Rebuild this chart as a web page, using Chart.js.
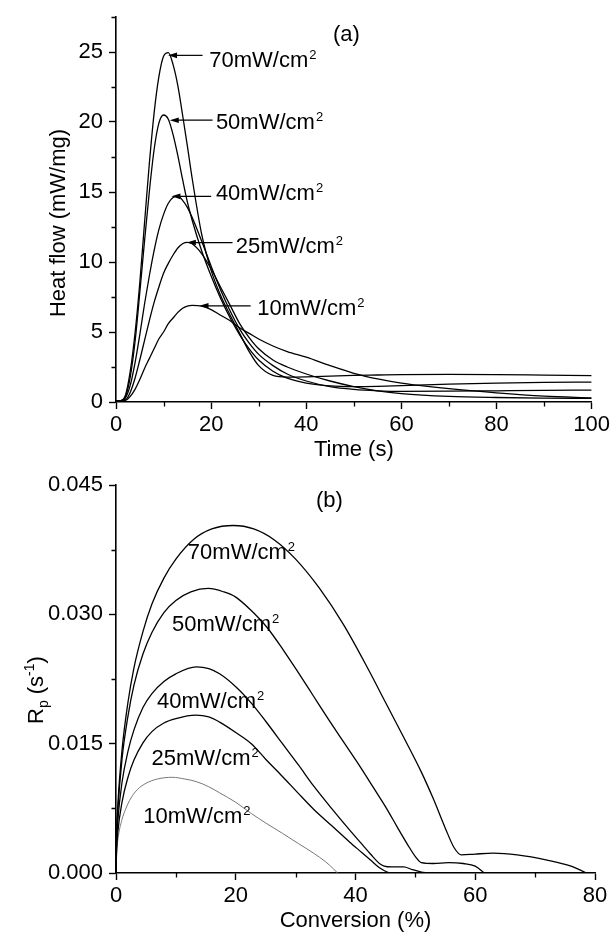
<!DOCTYPE html>
<html>
<head>
<meta charset="utf-8">
<script src="https://cdn.jsdelivr.net/npm/chart.js@4/dist/chart.umd.min.js"></script>
<style>
  body { margin: 0; background: #fff; }
  canvas { display: block; }
</style>
</head>
<body>
<canvas id="heatChart" width="615" height="466"></canvas>
<canvas id="rpChart" width="615" height="466"></canvas>
<script>
// Photo-DSC: heat flow vs time (a) and Rp vs conversion (b)

const FONT = "'Liberation Sans', Arial, sans-serif";
const intensities = ["70", "50", "40", "25", "10"];

// (a) heat flow (mW/mg), all curves sampled at the same times (s)
const time = [0, 1, 2, 3, 4, 5, 6, 7, 8, 9, 10, 11, 12, 13, 14, 15, 16, 18, 20, 22,
  24, 26, 28, 30, 33, 36, 40, 45, 50, 55, 60, 70, 80, 90, 100];
const heat70 = [0.1, 0.1, 0.5, 2.2, 4.9, 8.5, 12.8, 17.0, 20.6, 23.2, 24.7, 24.95, 24.1, 22.6,
  20.5, 18.3, 16.0, 12.0, 9.4, 7.6, 6.2, 4.9, 3.6, 2.6, 1.9, 1.78, 1.8, 1.85, 1.9, 1.93,
  1.96, 1.98, 1.96, 1.92, 1.88];
const heat50 = [0.1, 0.1, 0.4, 1.8, 4.3, 7.8, 11.5, 15.0, 18.0, 19.9, 20.5, 20.2, 19.1, 17.6,
  15.9, 14.3, 13.0, 10.8, 9.0, 7.4, 6.0, 4.8, 3.8, 3.0, 2.2, 1.7, 1.35, 1.15, 1.1, 1.12,
  1.17, 1.27, 1.35, 1.4, 1.42];
const heat40 = [0.1, 0.1, 0.3, 1.2, 2.8, 4.8, 7.0, 9.0, 10.8, 12.3, 13.4, 14.2, 14.6, 14.7,
  14.4, 13.9, 13.2, 11.5, 9.7, 8.0, 6.5, 5.2, 4.2, 3.4, 2.6, 2.0, 1.5, 1.1, 0.9, 0.8,
  0.76, 0.77, 0.8, 0.83, 0.85];
const heat25 = [0.1, 0.1, 0.15, 0.7, 1.7, 3.0, 4.4, 5.8, 7.1, 8.2, 9.2, 9.9, 10.5, 11.0,
  11.3, 11.4, 11.3, 10.6, 9.5, 8.2, 6.9, 5.6, 4.6, 3.8, 3.0, 2.5, 2.0, 1.5, 1.1, 0.8,
  0.6, 0.4, 0.32, 0.28, 0.26];
const heat10 = [0.1, 0.1, 0.12, 0.4, 0.9, 1.6, 2.4, 3.1, 3.8, 4.5, 5.0, 5.6, 6.0, 6.4,
  6.7, 6.85, 6.9, 6.85, 6.6, 6.2, 5.8, 5.3, 4.9, 4.5, 4.0, 3.6, 3.2, 2.6, 2.05, 1.65,
  1.35, 0.95, 0.65, 0.42, 0.3];

// (b) polymerization rate Rp (1/s) vs conversion (%)
const conv70 = [0, 0.1, 0.3, 1, 2, 3, 4.5, 6, 8, 10, 13, 16, 19.6, 23, 26.5, 30, 34, 38, 42,
  45, 48, 51, 53, 55, 56.5, 57.7, 60, 63, 67, 72, 76, 78.6];
const rp70 = [0, 0.0045, 0.0078, 0.0142, 0.0198, 0.0238, 0.028, 0.0312, 0.0342, 0.0364,
  0.0387, 0.0399, 0.0403, 0.0399, 0.0386, 0.0364, 0.033, 0.0288, 0.0238, 0.0198, 0.0158,
  0.0117, 0.0086, 0.0052, 0.0029, 0.0021, 0.0022, 0.0023, 0.0021, 0.0015, 0.0008, 0];
const conv50 = [0, 0.1, 0.3, 1, 2, 3, 4.5, 6, 8, 10, 12.5, 15.4, 18, 20, 22.5, 25.2, 28,
  30.4, 33, 35.6, 38, 40.9, 43, 45, 47, 48.7, 50, 51, 53, 55.5, 58, 60, 61.5];
const rp50 = [0, 0.0042, 0.0072, 0.0132, 0.0182, 0.0218, 0.0254, 0.0279, 0.0302, 0.0316,
  0.0326, 0.033, 0.0326, 0.032, 0.0305, 0.0285, 0.0258, 0.0233, 0.0205, 0.0177, 0.0152,
  0.0122, 0.0099, 0.0077, 0.0053, 0.0033, 0.0019, 0.0012, 0.0011, 0.0012, 0.0011,
  0.0008, 0];
const conv40 = [0, 0.1, 0.3, 1, 2, 3, 4.5, 6, 8, 10, 13.4, 15.5, 17.3, 20, 22.6, 25, 27.8,
  30.5, 33, 36, 39, 41, 42.5, 44, 44.8, 46, 48, 49.5, 51, 52];
const rp40 = [0, 0.0035, 0.006, 0.0105, 0.0141, 0.0166, 0.0192, 0.0208, 0.0222, 0.0231,
  0.0239, 0.0237, 0.0231, 0.0216, 0.0197, 0.0176, 0.015, 0.0125, 0.0101, 0.0075, 0.005,
  0.0034, 0.0022, 0.0011, 0.0008, 0.0007, 0.0007, 0.0004, 0.0001, 0];
const conv25 = [0, 0.1, 0.3, 1, 2, 3, 4.5, 6, 8, 10, 13.3, 15.5, 17.3, 20, 22.6, 25, 27.8,
  30.5, 33, 36, 39, 41, 42.5, 44, 45, 45.6];
const rp25 = [0, 0.0027, 0.0047, 0.0082, 0.0111, 0.0131, 0.0151, 0.0164, 0.0174, 0.0179,
  0.0183, 0.0181, 0.0175, 0.0163, 0.015, 0.0132, 0.0112, 0.0092, 0.0074, 0.0055, 0.0036,
  0.0024, 0.0015, 0.0006, 0.0002, 0];
const conv10 = [0, 0.1, 0.3, 1, 1.6, 2.5, 3.6, 5, 6.9, 9.4, 11.5, 13.4, 15.5, 17.3, 20, 22.6,
  25, 27.8, 30.5, 33, 35, 36.3, 37];
const rp10 = [0, 0.0022, 0.0038, 0.0062, 0.0074, 0.0087, 0.0097, 0.0104, 0.0109, 0.0111,
  0.0109, 0.0106, 0.01, 0.0093, 0.0082, 0.0069, 0.0058, 0.0046, 0.0034, 0.0023, 0.0013,
  0.0005, 0];

// axis ticks
const heatTicksX = [0, 20, 40, 60, 80, 100];
const heatTicksY = [0, 5, 10, 15, 20, 25];
const heatMinorX = [10, 30, 50, 70, 90];
const heatMinorY = [2.5, 7.5, 12.5, 17.5, 22.5, 27.5];
const rpTicksX = [0, 20, 40, 60, 80];
const rpTicksY = [0, 0.015, 0.03, 0.045];
const rpMinorX = [10, 30, 50, 70];
const rpMinorY = [0.0075, 0.0225, 0.0375];

// annotations (data units): arrows + labels in (a), labels in (b)
const arrowTail = [18.2, 20.3, 20.0, 24.5, 28.3];
const arrowTip = [10.95, 11.3, 11.65, 14.9, 17.55];
const arrowAt = [24.76, 20.13, 14.69, 11.39, 6.87];
const heatLabelX = [19.6, 21.0, 21.0, 25.2, 29.7];
const heatLabelY = [24.5, 20.06, 15.0, 11.23, 6.8];
const rpLabelX = [12.0, 9.35, 6.85, 5.93, 4.56];
const rpLabelY = [0.0374, 0.029, 0.0201, 0.0134, 0.00667];

const toPoints = (xs, ys) => xs.map((x, i) => ({ x: x, y: ys[i] }));

const curve = (xs, ys, color, width) => ({
  data: toPoints(xs, ys),
  borderColor: color,
  borderWidth: width,
  pointRadius: 0,
  fill: false,
  cubicInterpolationMode: "monotone",
});

// "70mW/cm" + raised "2"; y is the visual middle of the text
const unitLabel = (ctx, x, y, lvl) => {
  const main = lvl + "mW/cm";
  ctx.textAlign = "left";
  ctx.textBaseline = "alphabetic";
  ctx.font = "22px " + FONT;
  ctx.fillText(main, x, y + 8);
  const w = ctx.measureText(main).width;
  ctx.font = "13px " + FONT;
  ctx.fillText("2", x + w + 1, y);
};

const minorTicks = (xs, ys) => ({
  id: "minorTicks",
  afterDraw(chart) {
    const { ctx, scales: { x, y } } = chart;
    ctx.save();
    ctx.strokeStyle = "#000";
    ctx.lineWidth = 1.3;
    ctx.beginPath();
    xs.forEach((v) => {
      const px = Math.round(x.getPixelForValue(v)) + 0.5;
      ctx.moveTo(px, y.bottom);
      ctx.lineTo(px, y.bottom + 4.5);
    });
    ys.forEach((v) => {
      const py = Math.round(y.getPixelForValue(v)) + 0.5;
      ctx.moveTo(x.left, py);
      ctx.lineTo(x.left - 4.5, py);
    });
    ctx.stroke();
    ctx.restore();
  },
});

const heatNotes = {
  id: "heatNotes",
  afterDraw(chart) {
    const { ctx, scales: { x, y } } = chart;
    ctx.save();
    ctx.fillStyle = "#000";
    ctx.strokeStyle = "#000";
    ctx.lineWidth = 1.2;
    intensities.forEach((lvl, i) => {
      const py = y.getPixelForValue(arrowAt[i]);
      const x0 = x.getPixelForValue(arrowTail[i]);
      const x1 = x.getPixelForValue(arrowTip[i]);
      ctx.beginPath();
      ctx.moveTo(x0, py);
      ctx.lineTo(x1 + 6, py);
      ctx.stroke();
      ctx.beginPath();
      ctx.moveTo(x1, py);
      ctx.lineTo(x1 + 9, py - 2.8);
      ctx.lineTo(x1 + 9, py + 2.8);
      ctx.closePath();
      ctx.fill();
      unitLabel(ctx, x.getPixelForValue(heatLabelX[i]), y.getPixelForValue(heatLabelY[i]), lvl);
    });
    ctx.font = "22px " + FONT;
    ctx.textBaseline = "middle";
    ctx.fillText("(a)", x.getPixelForValue(45.6), y.getPixelForValue(26.2));
    // y title, rotated
    ctx.translate(65, 223);
    ctx.rotate(-Math.PI / 2);
    ctx.textAlign = "center";
    ctx.textBaseline = "alphabetic";
    ctx.fillText("Heat flow (mW/mg)", 0, 0);
    ctx.restore();
  },
};

const rpNotes = {
  id: "rpNotes",
  afterDraw(chart) {
    const { ctx, scales: { x, y } } = chart;
    ctx.save();
    ctx.fillStyle = "#000";
    intensities.forEach((lvl, i) => {
      unitLabel(ctx, x.getPixelForValue(rpLabelX[i]), y.getPixelForValue(rpLabelY[i]), lvl);
    });
    ctx.font = "22px " + FONT;
    ctx.textBaseline = "middle";
    ctx.fillText("(b)", x.getPixelForValue(33.4), y.getPixelForValue(0.0432));
    // y title R_p (s^-1), rotated, drawn piece by piece
    ctx.translate(43, 258);
    ctx.rotate(-Math.PI / 2);
    ctx.textAlign = "left";
    ctx.textBaseline = "alphabetic";
    let cx = 0;
    const part = (txt, size, dy) => {
      ctx.font = size + "px " + FONT;
      ctx.fillText(txt, cx, dy);
      cx += ctx.measureText(txt).width;
    };
    part("R", 22, 0);
    part("p", 14, 5);
    part(" (s", 22, 0);
    part("-1", 14, -9);
    part(")", 22, 0);
    ctx.restore();
  },
};

const tickFont = { family: FONT, size: 22, lineHeight: 1 };

const scalesFor = (o) => ({
  x: {
    type: "linear",
    min: 0,
    max: o.xMax,
    afterBuildTicks: (s) => { s.ticks = o.xTicks.map((v) => ({ value: v })); },
    afterFit: (s) => { s.height = o.xHeight; },
    ticks: { font: tickFont, color: "#000", padding: 5, maxRotation: 0, autoSkip: false },
    grid: { drawOnChartArea: false, tickLength: 7, tickWidth: 1.4, tickColor: "#000" },
    border: { color: "#000", width: 1.6 },
    title: {
      display: true,
      text: o.xTitle,
      color: "#000",
      font: { family: FONT, size: 22, lineHeight: 1 },
      padding: { top: 0, bottom: o.titlePad },
    },
  },
  y: {
    type: "linear",
    min: 0,
    max: o.yMax,
    afterBuildTicks: (s) => { s.ticks = o.yTicks.map((v) => ({ value: v })); },
    afterFit: (s) => { s.width = 116; },
    ticks: { font: tickFont, color: "#000", padding: 6, callback: o.yFmt },
    grid: { drawOnChartArea: false, tickLength: 7, tickWidth: 1.4, tickColor: "#000" },
    border: { color: "#000", width: 1.6 },
  },
});

const commonOpts = {
  responsive: false,
  animation: false,
  devicePixelRatio: 1,
  plugins: { legend: { display: false }, tooltip: { enabled: false } },
};

new Chart(document.getElementById("heatChart"), {
  type: "line",
  data: {
    datasets: [
      curve(time, heat70, "#000", 1.3),
      curve(time, heat50, "#000", 1.3),
      curve(time, heat40, "#000", 1.3),
      curve(time, heat25, "#000", 1.3),
      curve(time, heat10, "#000", 1.3),
    ],
  },
  options: {
    ...commonOpts,
    layout: { padding: { top: 13, right: 19, bottom: 0, left: 0 } },
    scales: scalesFor({
      xMax: 100, yMax: 27.5, xTicks: heatTicksX, yTicks: heatTicksY,
      xHeight: 64, xTitle: "Time (s)", titlePad: 5,
      yFmt: (v) => String(v),
    }),
  },
  plugins: [minorTicks(heatMinorX, heatMinorY), heatNotes],
});

new Chart(document.getElementById("rpChart"), {
  type: "line",
  data: {
    datasets: [
      curve(conv70, rp70, "#000", 1.3),
      curve(conv50, rp50, "#000", 1.3),
      curve(conv40, rp40, "#000", 1.3),
      curve(conv25, rp25, "#000", 1.3),
      curve(conv10, rp10, "#777", 1),
    ],
  },
  options: {
    ...commonOpts,
    layout: { padding: { top: 19, right: 20, bottom: 0, left: 0 } },
    scales: scalesFor({
      xMax: 80, yMax: 0.045, xTicks: rpTicksX, yTicks: rpTicksY,
      xHeight: 59, xTitle: "Conversion (%)", titlePad: 0,
      yFmt: (v) => v.toFixed(3),
    }),
  },
  plugins: [minorTicks(rpMinorX, rpMinorY), rpNotes],
});
</script>
</body>
</html>
